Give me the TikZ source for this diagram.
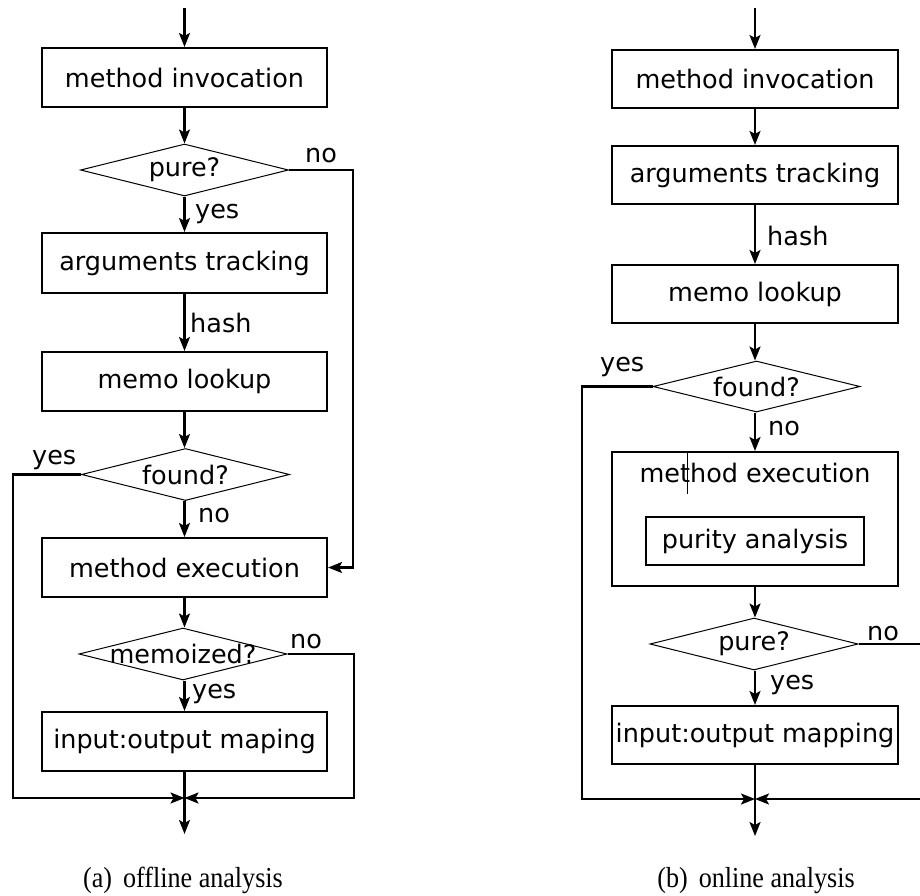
\documentclass[tikz,border=0pt]{standalone}
\usepackage{fontspec}
\usetikzlibrary{shapes.geometric,arrows.meta}
\newfontfamily\boxfont{DejaVu Sans}
\newfontfamily\capfont[FakeStretch=0.9]{Liberation Serif}
\tikzset{
  flowbox/.style={draw, line width=2.1pt, minimum width=285pt, minimum height=59pt,
    inner sep=0pt, font=\boxfont\fontsize{25.5}{30}\selectfont},
  decide/.style={diamond, draw, line width=1pt, inner sep=0pt, aspect=4,
    minimum width=208pt, minimum height=52pt, font=\boxfont\fontsize{25.5}{30}\selectfont},
  flow/.style={line width=2.1pt, -{Stealth[length=14pt,width=11pt,inset=3pt]}},
  plain/.style={line width=2.1pt},
  lbl/.style={anchor=base west, inner sep=0pt, font=\boxfont\fontsize{25.5}{30}\selectfont},
  caption/.style={anchor=base, inner sep=0pt, font=\capfont\fontsize{29}{33}\selectfont}
}
\newcommand{\dtext}[1]{\makebox[0pt]{#1}}
\begin{document}
\begin{tikzpicture}[x=1pt, y=-1pt]
\useasboundingbox (0,0) rectangle (920,895);

% ---------- (a) offline analysis ----------
\coordinate (Ltop) at (184.5,8);
\node[flowbox] (Lmi) at (184.5,77.5) {method invocation};
\node[decide] (Lpure) at (184.5,170) {\dtext{pure?}};
\node[flowbox, minimum height=60pt] (Lat) at (184.5,263) {arguments tracking};
\node[flowbox] (Lml) at (184.5,381.5) {memo lookup};
\node[decide] (Lfound) at (185.5,474.5) {\dtext{found?}};
\node[flowbox] (Lme) at (184.5,567.5) {method execution};
\node[decide] (Lmemo) at (183,654) {\dtext{memoized?}};
\node[flowbox] (Lio) at (184.5,741.5) {input:output maping};
\coordinate (Ljoin) at (184.5,798);
\coordinate (Lend) at (184.5,834);
\coordinate (Lnoa) at (353,170);
\coordinate (Lyesb) at (13,798);
\coordinate (Lnoc) at (354,654);

\draw[flow] (Ltop) -- (Lmi);
\draw[flow] (Lmi) -- (Lpure);
\draw[flow] (Lpure) -- (Lat);
\draw[flow] (Lat) -- (Lml);
\draw[flow] (Lml) -- (Lfound.north -| Lml);
\draw[flow] (Lfound.south -| Lml) -- (Lme);
\draw[flow] (Lme) -- (Lmemo.north -| Lme);
\draw[flow] (Lmemo.south -| Lme) -- (Lio);
\draw[plain] (Lio) -- (Ljoin);
\draw[flow] (Ljoin) -- (Lend);
\draw[flow] (Lpure.east) -- (Lnoa) |- (Lme.east);
\draw[flow] (Lfound.west) -| (Lyesb) -- (Ljoin);
\draw[flow] (Lmemo.east) -- (Lnoc) |- (Ljoin);

\node[lbl] (Llno1) at (305,162) {no};
\node[lbl] (Llyes1) at (195,218.5) {yes};
\node[lbl] (Llhash) at (190,332) {hash};
\node[lbl] (Llyes2) at (32,464) {yes};
\node[lbl] (Llno2) at (198,522) {no};
\node[lbl] (Llno3) at (290,648) {no};
\node[lbl] (Llyes3) at (192,698) {yes};

\node[caption] (Lcap) at (183,887) {(a)\hspace{11pt}offline analysis};

% ---------- (b) online analysis ----------
\coordinate (Rtop) at (755,8);
\node[flowbox, minimum width=286pt, minimum height=58pt] (Rmi) at (755,79) {method invocation};
\node[flowbox, minimum width=286pt, minimum height=58pt] (Rat) at (755,175) {arguments tracking};
\node[flowbox, minimum width=286pt, minimum height=58pt] (Rml) at (755,294) {memo lookup};
\node[decide, minimum width=207pt, minimum height=51pt] (Rfound) at (756.5,386.5) {\dtext{found?}};
\node[flowbox, minimum width=286pt, minimum height=134pt] (Rme) at (755,519) {};
\node[lbl, anchor=base] (Rmetext) at (755,482) {method execution};
\node[draw, line width=1.3pt, minimum width=218pt, minimum height=48pt, inner sep=0pt,
  font=\boxfont\fontsize{25.5}{30}\selectfont] (Rpa) at (755,541) {purity analysis};
\node[decide] (Rpure) at (754,644) {\dtext{pure?}};
\node[flowbox, minimum width=286pt, minimum height=58pt] (Rio) at (755,735) {input:output mapping};
\coordinate (Rjoin) at (755,799);
\coordinate (Rend) at (755,836);
\coordinate (Ryesb) at (582,799);
\coordinate (Rnoc) at (922,644);

\draw[flow] (Rtop) -- (Rmi);
\draw[flow] (Rmi) -- (Rat);
\draw[flow] (Rat) -- (Rml);
\draw[flow] (Rml) -- (Rfound.north -| Rml);
\draw[flow] (Rfound.south -| Rml) -- (Rme);
\draw[flow] (Rme) -- (Rpure.north -| Rme);
\draw[flow] (Rpure.south -| Rme) -- (Rio);
\draw[plain] (Rio) -- (Rjoin);
\draw[flow] (Rjoin) -- (Rend);
\draw[flow] (Rfound.west) -| (Ryesb) -- (Rjoin);
\draw[flow] (Rpure.east) -- (Rnoc) |- (Rjoin);
\draw[line width=0.7pt] (687,453) -- (687,494);

\node[lbl] (Rlhash) at (767,245) {hash};
\node[lbl] (Rlyes1) at (600,371) {yes};
\node[lbl] (Rlno1) at (768,435) {no};
\node[lbl] (Rlno2) at (867,640) {no};
\node[lbl] (Rlyes2) at (770,689) {yes};

\node[caption] (Rcap) at (756,887) {(b)\hspace{11pt}online analysis};
\end{tikzpicture}
\end{document}
